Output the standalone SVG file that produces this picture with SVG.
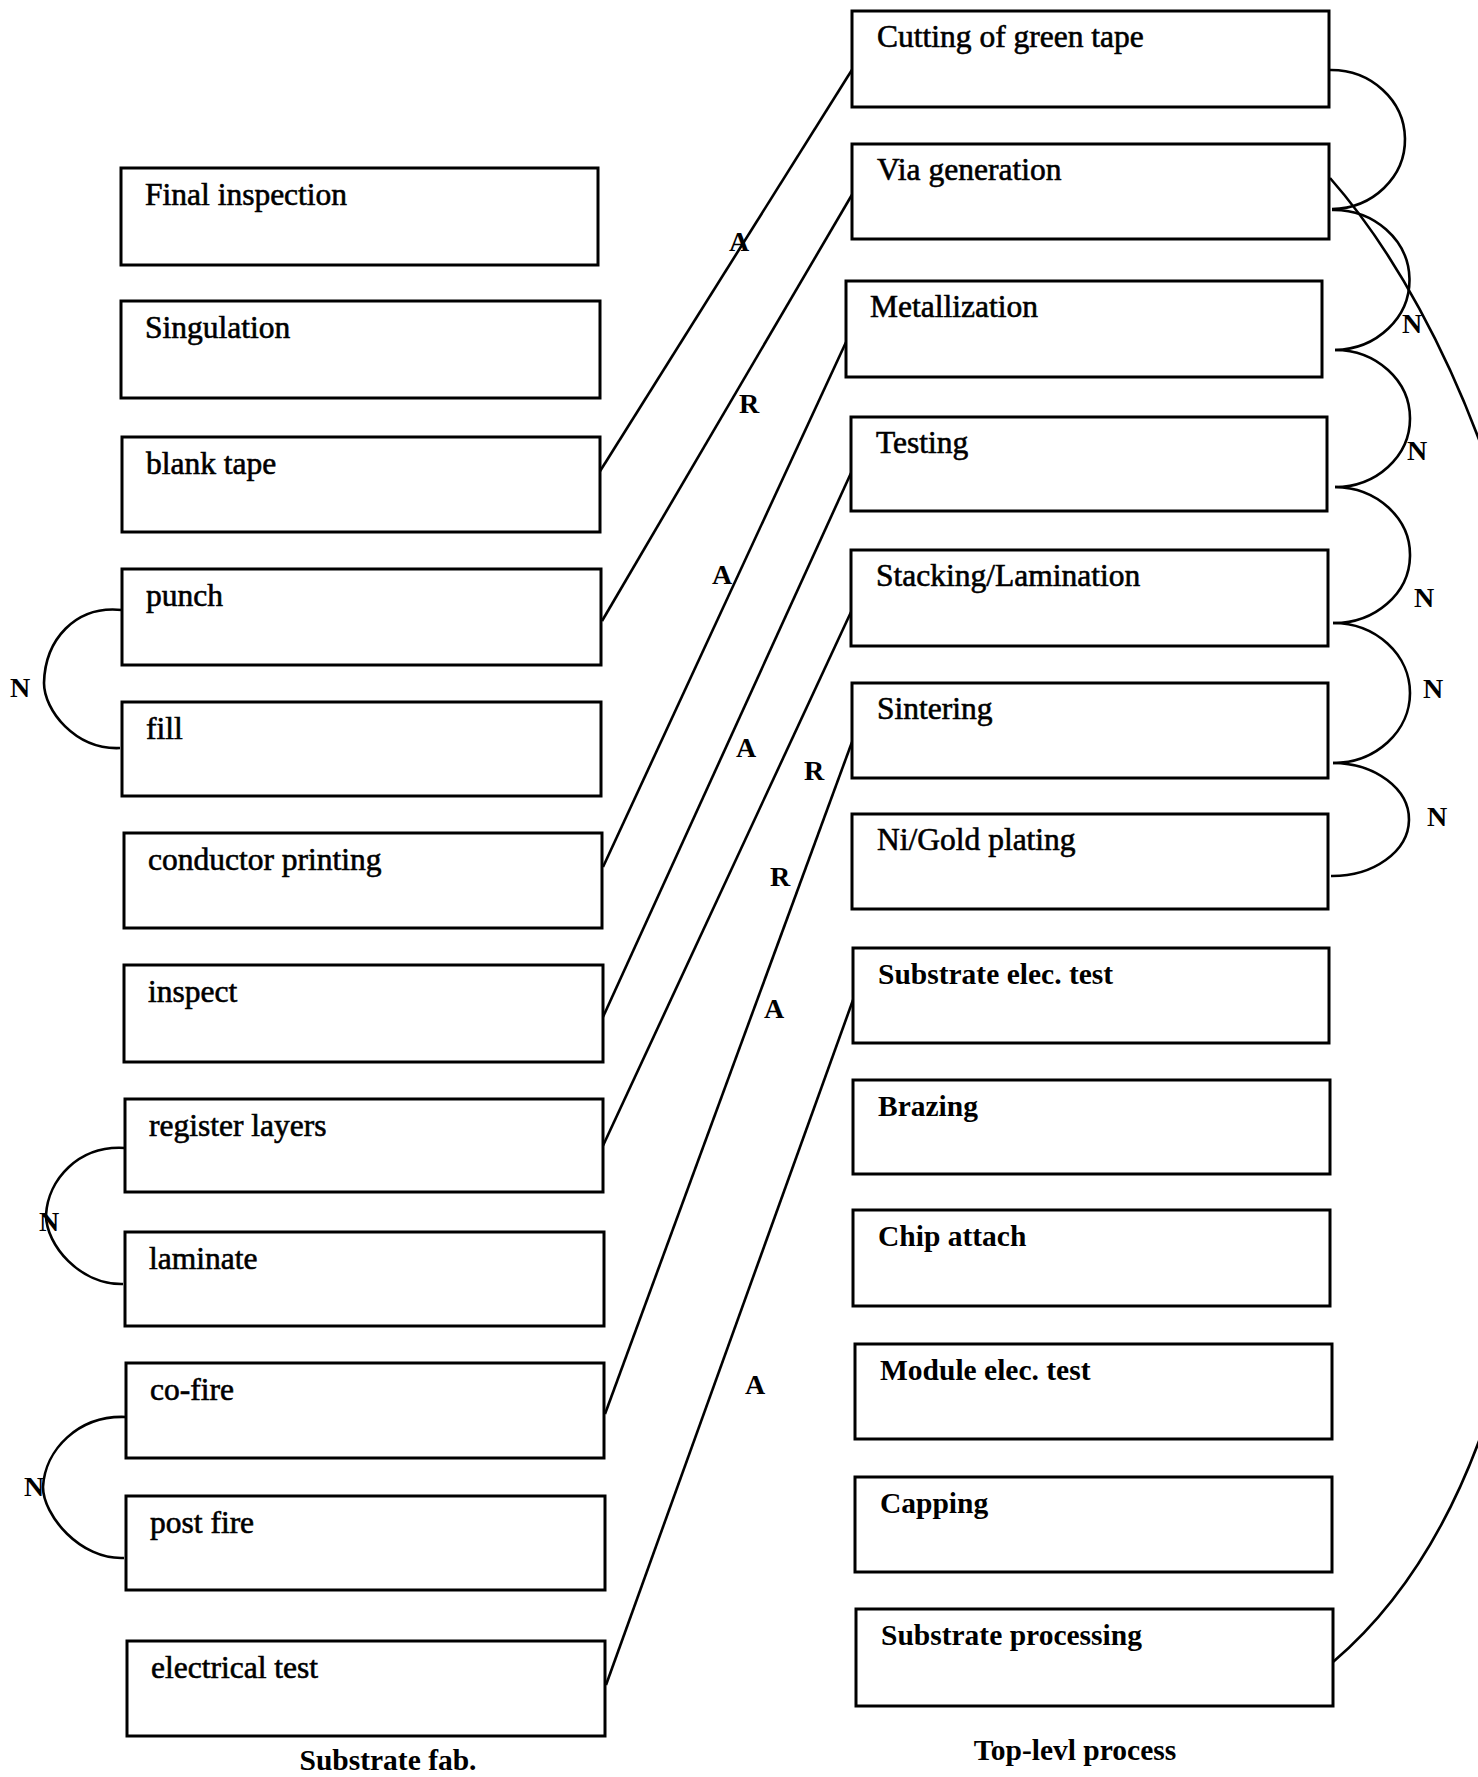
<svg xmlns="http://www.w3.org/2000/svg" width="1478" height="1777" viewBox="0 0 1478 1777">
<style>
.box{fill:#fff;stroke:#000;stroke-width:3}
.t{font-family:"Liberation Serif","Times New Roman",serif;font-size:31.5px;fill:#000;stroke:#000;stroke-width:0.6}
.tb{font-family:"Liberation Serif","Times New Roman",serif;font-size:29.5px;font-weight:bold;fill:#000}
.lbl{font-family:"Liberation Serif","Times New Roman",serif;font-size:28px;font-weight:bold;fill:#000;text-anchor:middle}
.c{fill:none;stroke:#000;stroke-width:2.6}
</style>
<rect width="1478" height="1777" fill="#fff"/>
<g id="connectors">
<line class="c" x1="597" y1="476" x2="855" y2="65"/>
<line class="c" x1="602" y1="621" x2="853" y2="193"/>
<line class="c" x1="603" y1="867" x2="847" y2="340"/>
<line class="c" x1="603" y1="1017" x2="851" y2="473"/>
<line class="c" x1="601" y1="1150" x2="851" y2="612"/>
<line class="c" x1="605" y1="1414" x2="852" y2="742"/>
<line class="c" x1="606" y1="1685" x2="853" y2="1000"/>
<path class="c" d="M1330,70 A74 69.5 0 0 1 1332,209"/>
<path class="c" d="M1332,210 A76 70 0 0 1 1335,350"/>
<path class="c" d="M1335,350 A75 68.5 0 0 1 1335,487"/>
<path class="c" d="M1335,487 A76 68 0 0 1 1333,623"/>
<path class="c" d="M1333,623 A77 70 0 0 1 1333,763"/>
<path class="c" d="M1333,763 A77 56.5 0 0 1 1331,876"/>
<path class="c" d="M1330,178 C1455,320 1565,600 1557,900 C1550,1250 1500,1520 1333,1662"/>
<path class="c" d="M122,610 C75,605 45,640 44,683 C44,710 75,750 120,748"/>
<path class="c" d="M125,1148 C78,1145 48,1180 46,1215 C46,1245 80,1285 123,1284"/>
<path class="c" d="M126,1417 C78,1415 45,1450 43,1487 C43,1515 80,1560 124,1558"/>
<text class="lbl" x="739" y="251">A</text>
<text class="lbl" x="749" y="413">R</text>
<text class="lbl" x="722" y="584">A</text>
<text class="lbl" x="746" y="757">A</text>
<text class="lbl" x="814" y="780">R</text>
<text class="lbl" x="780" y="886">R</text>
<text class="lbl" x="774" y="1018">A</text>
<text class="lbl" x="755" y="1394">A</text>
<text class="lbl" x="1412" y="333">N</text>
<text class="lbl" x="1417" y="460">N</text>
<text class="lbl" x="1424" y="607">N</text>
<text class="lbl" x="1433" y="698">N</text>
<text class="lbl" x="1437" y="826">N</text>
<text class="lbl" x="20" y="697">N</text>
<text class="lbl" x="49" y="1231">N</text>
<text class="lbl" x="34" y="1496">N</text>
</g>
<g id="left-final-inspection"><rect class="box" x="121" y="168" width="477" height="97"/><text class="t" x="145" y="205">Final inspection</text></g>
<g id="left-singulation"><rect class="box" x="121" y="301" width="479" height="97"/><text class="t" x="145" y="338">Singulation</text></g>
<g id="left-blank-tape"><rect class="box" x="122" y="437" width="478" height="95"/><text class="t" x="146" y="474">blank tape</text></g>
<g id="left-punch"><rect class="box" x="122" y="569" width="479" height="96"/><text class="t" x="146" y="606">punch</text></g>
<g id="left-fill"><rect class="box" x="122" y="702" width="479" height="94"/><text class="t" x="146" y="739">fill</text></g>
<g id="left-conductor-printing"><rect class="box" x="124" y="833" width="478" height="95"/><text class="t" x="148" y="870">conductor printing</text></g>
<g id="left-inspect"><rect class="box" x="124" y="965" width="479" height="97"/><text class="t" x="148" y="1002">inspect</text></g>
<g id="left-register-layers"><rect class="box" x="125" y="1099" width="478" height="93"/><text class="t" x="149" y="1136">register layers</text></g>
<g id="left-laminate"><rect class="box" x="125" y="1232" width="479" height="94"/><text class="t" x="149" y="1269">laminate</text></g>
<g id="left-co-fire"><rect class="box" x="126" y="1363" width="478" height="95"/><text class="t" x="150" y="1400">co-fire</text></g>
<g id="left-post-fire"><rect class="box" x="126" y="1496" width="479" height="94"/><text class="t" x="150" y="1533">post fire</text></g>
<g id="left-electrical-test"><rect class="box" x="127" y="1641" width="478" height="95"/><text class="t" x="151" y="1678">electrical test</text></g>
<g id="right-cutting"><rect class="box" x="852" y="11" width="477" height="96"/><text class="t" x="877" y="47">Cutting of green tape</text></g>
<g id="right-via"><rect class="box" x="852" y="144" width="477" height="95"/><text class="t" x="877" y="180">Via generation</text></g>
<g id="right-metallization"><rect class="box" x="846" y="281" width="476" height="96"/><text class="t" x="870" y="317">Metallization</text></g>
<g id="right-testing"><rect class="box" x="851" y="417" width="476" height="94"/><text class="t" x="876" y="453">Testing</text></g>
<g id="right-stacking"><rect class="box" x="851" y="550" width="477" height="96"/><text class="t" x="876" y="586">Stacking/Lamination</text></g>
<g id="right-sintering"><rect class="box" x="852" y="683" width="476" height="95"/><text class="t" x="877" y="719">Sintering</text></g>
<g id="right-nigold"><rect class="box" x="852" y="814" width="476" height="95"/><text class="t" x="877" y="850">Ni/Gold plating</text></g>
<g id="right-substrate-elec-test"><rect class="box" x="853" y="948" width="476" height="95"/><text class="tb" x="878" y="984">Substrate elec. test</text></g>
<g id="right-brazing"><rect class="box" x="853" y="1080" width="477" height="94"/><text class="tb" x="878" y="1116">Brazing</text></g>
<g id="right-chip-attach"><rect class="box" x="853" y="1210" width="477" height="96"/><text class="tb" x="878" y="1246">Chip attach</text></g>
<g id="right-module-elec-test"><rect class="box" x="855" y="1344" width="477" height="95"/><text class="tb" x="880" y="1380">Module elec. test</text></g>
<g id="right-capping"><rect class="box" x="855" y="1477" width="477" height="95"/><text class="tb" x="880" y="1513">Capping</text></g>
<g id="right-substrate-processing"><rect class="box" x="856" y="1609" width="477" height="97"/><text class="tb" x="881" y="1645">Substrate processing</text></g>
<text class="tb" x="388" y="1770" text-anchor="middle">Substrate fab.</text>
<text class="tb" x="1075" y="1760" text-anchor="middle">Top-levl process</text>
</svg>
